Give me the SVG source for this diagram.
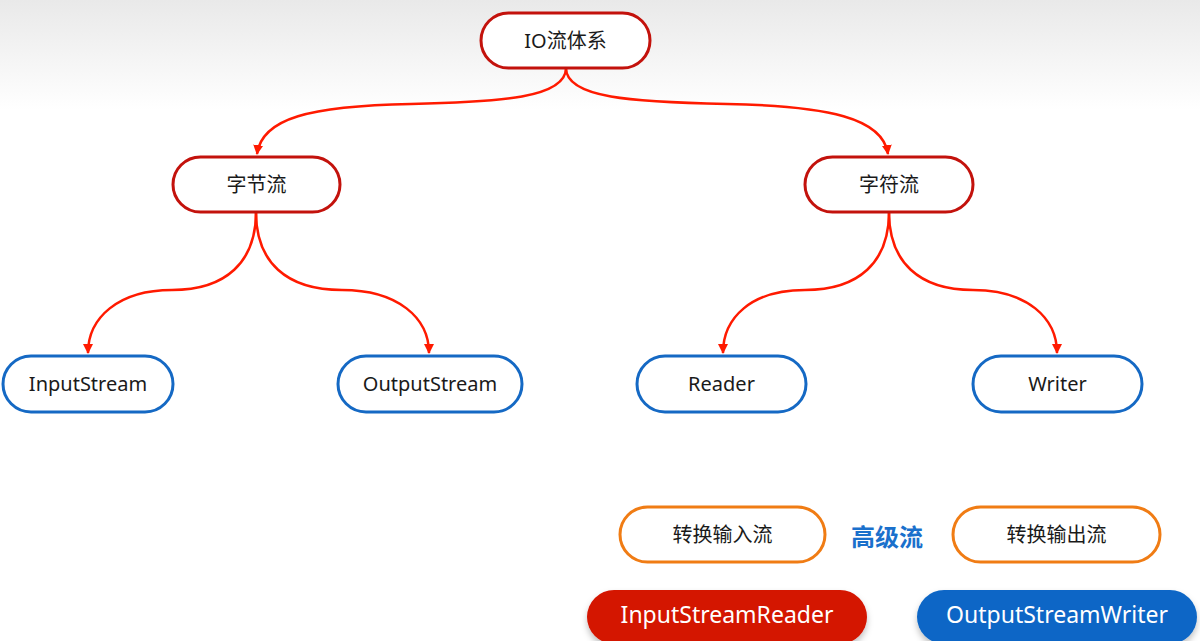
<svg xmlns="http://www.w3.org/2000/svg" width="1200" height="641" viewBox="0 0 1200 641">
<defs>
<linearGradient id="bg" x1="0" y1="0" x2="0" y2="1">
<stop offset="0" stop-color="#e9e9e9"/>
<stop offset="1" stop-color="#ffffff"/>
</linearGradient>
<marker id="arr" viewBox="0 0 10 10" refX="9" refY="5" markerWidth="4" markerHeight="4" orient="auto" markerUnits="strokeWidth">
<path d="M0,0 L10,5 L0,10 z" fill="#ff1a00"/>
</marker>
<filter id="sh" x="-10%" y="-20%" width="120%" height="150%">
<feDropShadow dx="0" dy="4" stdDeviation="3" flood-color="#000" flood-opacity="0.25"/>
</filter>
</defs>
<style>
text{font-family:"Noto Sans","Noto Sans CJK SC",sans-serif;font-size:20px;fill:#1a1a1a;text-anchor:middle}
.l1 rect{fill:#fff;stroke:#c3120c;stroke-width:3}
.l2 rect{fill:#fff;stroke:#1569c4;stroke-width:3}
.or rect{fill:#fff;stroke:#f07c14;stroke-width:3}
.conn path{fill:none;stroke:#ff1a00;stroke-width:2.5;marker-end:url(#arr)}
.big text{font-size:23px;fill:#fff}
.hl{font-size:24px;font-weight:bold;fill:#1a70cc}
</style>
<rect x="0" y="0" width="1200" height="110" fill="url(#bg)"/>
<rect x="0" y="110" width="1200" height="531" fill="#fff"/>

<g id="connectors" class="conn">
<path d="M566,68 C566,98 500,102 411,104 C 310,106 262,118 257,154"/>
<path d="M566,68 C566,98 632,102 727,104 C 828,106 883,118 888,154"/>
<path d="M256,212 C256,262 226,290 172,290 C 118,290 88,318 88,353"/>
<path d="M256,212 C256,262 286,290 342,290 C 398,290 429,318 429,353"/>
<path d="M889,212 C889,262 859,290 805,290 C 751,290 723,318 723,353"/>
<path d="M889,212 C889,262 919,290 973,290 C 1027,290 1057,318 1057,353"/>
</g>

<g id="n-io" class="l1"><rect x="481" y="13" width="169" height="55" rx="27.5"/><text x="565.5" y="48">IO流体系</text></g>
<g id="n-byte" class="l1"><rect x="173" y="157" width="167" height="55" rx="27.5"/><text x="256.5" y="192">字节流</text></g>
<g id="n-char" class="l1"><rect x="805" y="157" width="168" height="55" rx="27.5"/><text x="889" y="192">字符流</text></g>

<g id="n-in" class="l2"><rect x="3" y="356" width="170" height="56" rx="28"/><text x="88" y="391">InputStream</text></g>
<g id="n-out" class="l2"><rect x="338" y="356" width="184" height="56" rx="28"/><text x="430" y="391">OutputStream</text></g>
<g id="n-reader" class="l2"><rect x="637" y="356" width="169" height="56" rx="28"/><text x="721.5" y="391">Reader</text></g>
<g id="n-writer" class="l2"><rect x="973" y="356" width="169" height="56" rx="28"/><text x="1057.5" y="391">Writer</text></g>

<g id="n-cin" class="or"><rect x="620" y="507" width="205" height="55" rx="27.5"/><text x="722.5" y="542">转换输入流</text></g>
<g id="n-label"><text class="hl" x="887" y="546">高级流</text></g>
<g id="n-cout" class="or"><rect x="953" y="507" width="207" height="55" rx="27.5"/><text x="1056.5" y="542">转换输出流</text></g>

<g id="n-isr" class="big"><rect x="587" y="590" width="280" height="54" rx="27" fill="#d41400" filter="url(#sh)"/><text x="727" y="623">InputStreamReader</text></g>
<g id="n-osw" class="big"><rect x="917" y="590" width="280" height="54" rx="27" fill="#0a66c6" filter="url(#sh)"/><text x="1057" y="623">OutputStreamWriter</text></g>
</svg>
